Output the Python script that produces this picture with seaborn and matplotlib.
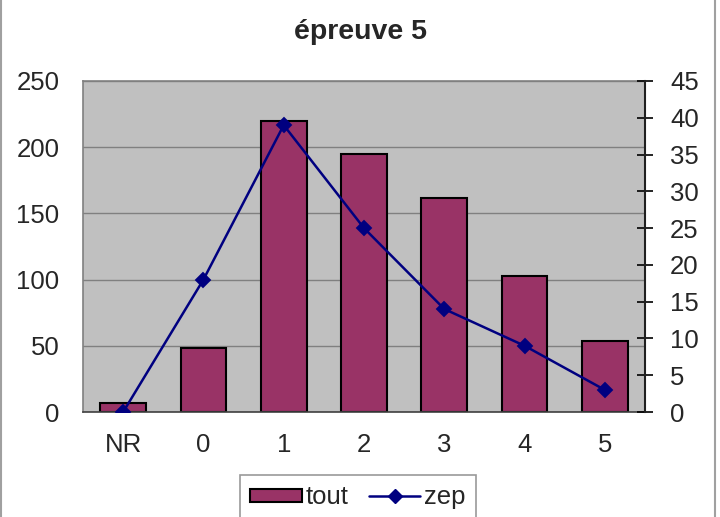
import matplotlib
matplotlib.use("Agg")
import matplotlib.pyplot as plt
import seaborn as sns
import numpy as np
from matplotlib.patches import Patch
from matplotlib.lines import Line2D

categories = ["NR", "0", "1", "2", "3", "4", "5"]
tout = [7, 48, 220, 195, 162, 103, 54]
zep = [0, 18, 39, 25, 14, 9, 3]
left_ticks = [0, 50, 100, 150, 200, 250]
right_ticks = [0, 5, 10, 15, 20, 25, 30, 35, 40, 45]

sns.set_style("white")
plt.rcParams['font.family'] = ['Liberation Sans', 'DejaVu Sans']

FS = 18.5

fig = plt.figure(figsize=(7.2, 5.17), dpi=100)
ax = fig.add_axes([83/720, 1-412/517, (645-83)/720, (412-81)/517])
ax.set_facecolor("#C0C0C0")

sns.barplot(x=categories, y=tout, ax=ax, color="#993366", width=0.57,
            edgecolor="black", linewidth=1.5, saturation=1, zorder=2)
ax.set_ylim(0, 250)
ax.set_yticks(left_ticks)
ax.set_xlim(-0.5, 6.5)
ax.yaxis.grid(True, color="#808080", linewidth=1)
ax.set_axisbelow(True)
ax.tick_params(axis="both", length=0, labelsize=FS)
ax.tick_params(axis="x", pad=15)
ax.tick_params(axis="y", pad=17)
for s in ["left", "top", "bottom"]:
    ax.spines[s].set_color("#808080")
    ax.spines[s].set_linewidth(1.2)
ax.spines["bottom"].set_color("#404040")
ax.spines["right"].set_visible(False)

ax2 = ax.twinx()
sns.pointplot(x=categories, y=zep, ax=ax2, color="#000080", markers="D",
              errorbar=None, markersize=7, linewidth=1.8)
ax2.set_ylim(0, 45)
ax2.set_yticks(right_ticks)
ax2.set_xlim(-0.5, 6.5)
ax2.set_ylabel("")
ax.set_ylabel("")
ax2.tick_params(axis="y", direction="inout", length=12, width=1.2, color="black",
                labelsize=FS, pad=12)
for s in ["left", "top", "bottom"]:
    ax2.spines[s].set_visible(False)
ax2.spines["right"].set_color("#202020")
ax2.spines["right"].set_linewidth(1.5)

fig.text(0.5, 1-32/517, "épreuve 5", ha="center", va="center",
         fontsize=20.5, fontweight="bold")

handles = [Patch(facecolor="#993366", edgecolor="black", linewidth=1.5),
           Line2D([], [], color="#000080", marker="D", markersize=7, linewidth=1.8)]
leg = fig.legend(handles, ["tout", "zep"], loc="upper center",
                 bbox_to_anchor=(358/720, 1-475/517), ncol=2, frameon=True,
                 fontsize=FS, fancybox=False, edgecolor="#808080",
                 handlelength=2.0, handleheight=0.4, handletextpad=0.15,
                 columnspacing=0.8, borderpad=0.4, borderaxespad=0)
leg.get_frame().set_linewidth(1.2)

fig.add_artist(Line2D([1/720, 1/720], [0, 1], color="#A0A0A0", linewidth=1.5,
                      transform=fig.transFigure))
fig.add_artist(Line2D([715/720, 715/720], [0, 1], color="#A0A0A0", linewidth=1.5,
                      transform=fig.transFigure))

fig.savefig("out.png", dpi=100)
